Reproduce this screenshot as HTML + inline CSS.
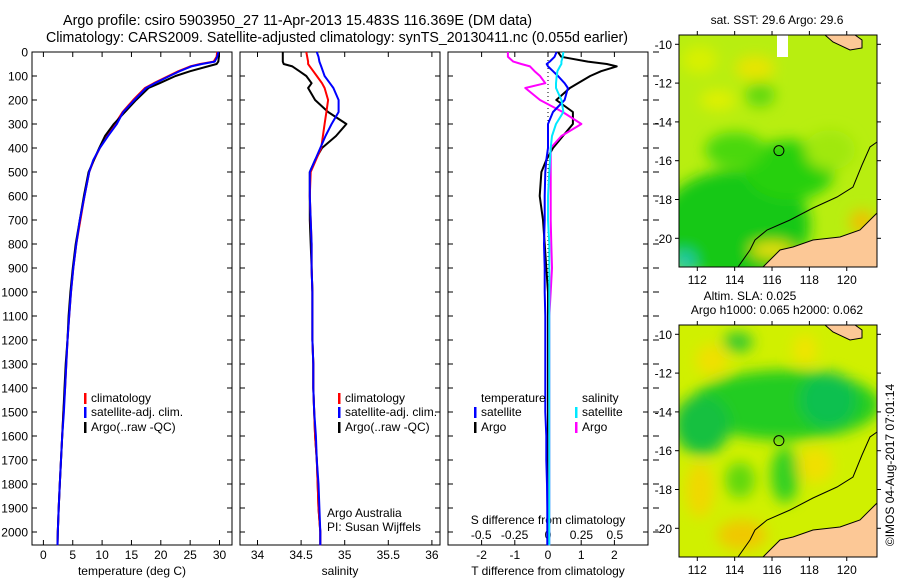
<!DOCTYPE html>
<html><head><meta charset="utf-8"><style>
html,body{margin:0;padding:0;background:#fff;}
svg{display:block;font-family:"Liberation Sans",sans-serif;}
</style></head><body>
<svg id="fig" width="900" height="580" viewBox="0 0 900 580" xmlns="http://www.w3.org/2000/svg">
<defs>
<filter id="blur" x="-20%" y="-20%" width="140%" height="140%"><feGaussianBlur stdDeviation="7"/></filter>
<clipPath id="clip1"><rect x="679" y="35" width="198" height="232"/></clipPath>
<clipPath id="clip2"><rect x="679" y="325" width="198" height="232"/></clipPath>
</defs>
<text x="63" y="25" font-size="14.3" textLength="469" lengthAdjust="spacingAndGlyphs">Argo profile: csiro 5903950_27 11-Apr-2013 15.483S 116.369E (DM data)</text>
<text x="46" y="42" font-size="14.3" textLength="582" lengthAdjust="spacingAndGlyphs">Climatology: CARS2009. Satellite-adjusted climatology: synTS_20130411.nc (0.055d earlier)</text>
<g id="g"></g>
</svg>
<script>
// ---- data ----
var depthLevels=[0,20,40,50,60,80,100,130,150,200,250,300,350,400,450,500,600,700,800,900,1000,1100,1200,1300,1400,1500,1600,1700,1800,1900,2000,2055];
var tempClim=[29.6,29.5,29.0,26.7,25.0,23.0,21.3,18.8,17.3,15.3,13.5,12.2,10.8,9.6,8.6,7.8,7.0,6.3,5.6,5.1,4.7,4.4,4.1,3.9,3.7,3.4,3.2,3.0,2.8,2.6,2.45,2.4];
var tempSat=[29.8,29.6,29.2,27.0,25.2,23.2,21.5,19.0,17.5,15.5,13.6,12.5,11.0,9.6,8.5,7.8,7.0,6.2,5.6,5.1,4.7,4.4,4.1,3.9,3.7,3.5,3.2,3.0,2.8,2.6,2.45,2.4];
var tempArgo=[29.9,29.9,29.8,29.5,28.0,25.0,22.5,19.8,17.9,15.8,13.9,12.0,10.5,9.5,8.6,7.7,6.9,6.2,5.5,5.0,4.6,4.3,4.1,3.8,3.6,3.4,3.2,3.0,2.8,2.6,2.45,2.4];
var salClim=[34.56,34.57,34.58,34.58,34.60,34.64,34.68,34.74,34.77,34.81,34.79,34.77,34.75,34.73,34.67,34.61,34.60,34.61,34.62,34.62,34.63,34.63,34.63,34.64,34.64,34.65,34.66,34.68,34.69,34.70,34.72,34.72];
var salSat=[34.68,34.70,34.71,34.72,34.73,34.75,34.77,34.83,34.87,34.93,34.93,34.85,34.78,34.72,34.66,34.60,34.60,34.61,34.62,34.62,34.63,34.63,34.63,34.64,34.64,34.65,34.67,34.68,34.70,34.71,34.72,34.72];
var salArgo=[34.29,34.29,34.29,34.30,34.40,34.48,34.56,34.62,34.58,34.66,34.81,35.02,34.90,34.74,34.66,34.60,34.60,34.60,34.61,34.62,34.63,34.63,34.63,34.64,34.64,34.65,34.66,34.68,34.69,34.70,34.72,34.72];
var dTsat=[0.26,0.2,0.05,-0.04,0.0,0.15,0.3,0.5,0.6,0.5,0.15,0.0,0.0,0.0,-0.05,-0.08,-0.1,-0.1,-0.12,-0.1,-0.1,-0.08,-0.08,-0.08,-0.08,-0.08,-0.05,-0.05,-0.03,-0.02,-0.02,-0.02];
var dTargo=[0.3,0.4,1.2,1.77,2.07,1.6,1.27,0.9,0.66,0.25,0.75,0.75,0.45,0.15,-0.05,-0.2,-0.25,-0.15,-0.1,-0.05,0.0,0.0,0.0,0.0,0.0,0.0,0.0,0.0,0.0,0.0,0.0,0.0];
var dSsat=[0.115,0.11,0.1,0.1,0.09,0.07,0.065,0.06,0.06,0.1,0.115,0.06,0.03,0.02,0.015,0.01,0.0,0.0,0.01,0.01,0.01,0.01,0.01,0.01,0.01,0.01,0.01,0.01,0.01,0.01,0.01,0.01];
var dSargo=[-0.3,-0.3,-0.26,-0.2,-0.135,-0.1,-0.06,-0.02,-0.17,-0.06,0.11,0.25,0.1,0.02,0.02,0.02,0.02,0.02,0.025,0.03,0.02,0.01,0.01,0.01,0.01,0.01,0.01,0.01,0.01,0.01,0.01,0.01];
var depthTicks=[0,100,200,300,400,500,600,700,800,900,1000,1100,1200,1300,1400,1500,1600,1700,1800,1900,2000];
var tempTicks=[0,5,10,15,20,25,30];
var salTicks=[34,34.5,35,35.5,36];
var dTTicks=[-2,-1,0,1,2];
var dSTicks=[-0.5,-0.25,0,0.25,0.5];
var lonTicks=[112,114,116,118,120];
var latTicks=[-10,-12,-14,-16,-18,-20];
var floatLon=116.369, floatLat=-15.483;

// ---- scales ----
function yD(d){return 52+d*0.24;}
function xT(t){return 43.4+5.87*t;}
function xS(s){return 257.5+87.2*(s-34);}
function xdT(v){return 548+33.2*v;}
function xdS(v){return 548+133.6*v;}
function xLon(l){return 697.3+(l-112)*18.68;}
function yLat(l,off){return off+44.3+(-10-l)*19.4;}

var NS="http://www.w3.org/2000/svg", G=document.getElementById('g');
function el(tag,attrs,parent){var e=document.createElementNS(NS,tag);for(var k in attrs)e.setAttribute(k,attrs[k]);(parent||G).appendChild(e);return e;}
function txt(x,y,s,size,anchor,name){var t=el('text',{x:x,y:y,'font-size':size,'text-anchor':anchor||'start'});t.textContent=s;


return t;}
function line(vals,fx,color,name,w){var pts=depthLevels.map(function(d,i){return fx(vals[i]).toFixed(1)+','+yD(d).toFixed(1);}).join(' ');
var p=el('polyline',{points:pts,fill:'none',stroke:color,'stroke-width':w||2,'stroke-linejoin':'round'});

}

var panels=[{x0:32,x1:232,name:'temperature-panel'},{x0:240,x1:440,name:'salinity-panel'},{x0:448,x1:648,name:'difference-panel'}];
panels.forEach(function(p){
  var r=el('rect',{x:p.x0,y:52,width:p.x1-p.x0,height:493,fill:'none',stroke:'#000','stroke-width':1});
  
  
  depthTicks.forEach(function(d){
    el('line',{x1:p.x0,x2:p.x0+5,y1:yD(d),y2:yD(d),stroke:'#000'});
    el('line',{x1:p.x1,x2:p.x1-5,y1:yD(d),y2:yD(d),stroke:'#000'});
  });
});
depthTicks.forEach(function(d){txt(28,yD(d)+4.5,String(d),12,'end','depth-tick-label');});
tempTicks.forEach(function(t){el('line',{x1:xT(t),x2:xT(t),y1:545,y2:540,stroke:'#000'});el('line',{x1:xT(t),x2:xT(t),y1:52,y2:57,stroke:'#000'});txt(xT(t),559,String(t),12,'middle','temperature-tick-label');});
salTicks.forEach(function(t){el('line',{x1:xS(t),x2:xS(t),y1:545,y2:540,stroke:'#000'});el('line',{x1:xS(t),x2:xS(t),y1:52,y2:57,stroke:'#000'});txt(xS(t),559,String(t),12,'middle','salinity-tick-label');});
dTTicks.forEach(function(t){el('line',{x1:xdT(t),x2:xdT(t),y1:545,y2:540,stroke:'#000'});el('line',{x1:xdT(t),x2:xdT(t),y1:52,y2:57,stroke:'#000'});txt(xdT(t),559,String(t),12,'middle','t-diff-tick-label');});
dSTicks.forEach(function(t){txt(xdS(t),539,String(t),12,'middle','s-diff-tick-label');});
txt(132,575,'temperature (deg C)',12,'middle','temperature-axis-title');
txt(340,575,'salinity',12,'middle','salinity-axis-title');
txt(548,575,'T difference from climatology',12,'middle','t-diff-axis-title');
txt(548,524,'S difference from climatology',12,'middle','s-diff-axis-title');
el('line',{x1:548,x2:548,y1:52,y2:545,stroke:'#000','stroke-dasharray':'1,3'});
line(tempClim,xT,'#ff0000','temperature-climatology-line');
line(tempArgo,xT,'#000000','temperature-argo-line');
line(tempSat,xT,'#0000ff','temperature-satellite-line');
line(salArgo,xS,'#000000','salinity-argo-line');
line(salClim,xS,'#ff0000','salinity-climatology-line');
line(salSat,xS,'#0000ff','salinity-satellite-line');
line(dTargo,xdT,'#000000','t-diff-argo-line');
line(dSargo,xdS,'#ff00ff','s-diff-argo-line');
line(dTsat,xdT,'#0000ff','t-diff-satellite-line');
line(dSsat,xdS,'#00e8ff','s-diff-satellite-line');
function leg(x,y,color,label,name){el('rect',{x:x,y:y-9,width:2.5,height:11,fill:color});txt(x+7,y,label,12,'start',name);}
leg(84,402,'#ff0000','climatology','legend-climatology');
leg(84,416,'#0000ff','satellite-adj. clim.','legend-satellite');
leg(84,431,'#000000','Argo(..raw -QC)','legend-argo');
leg(338,402,'#ff0000','climatology','legend2-climatology');
leg(338,416,'#0000ff','satellite-adj. clim.','legend2-satellite');
leg(338,431,'#000000','Argo(..raw -QC)','legend2-argo');
txt(481,402,'temperature',12,'start','legend-temperature-header');
txt(582,402,'salinity',12,'start','legend-salinity-header');
leg(474,416,'#0000ff','satellite','legend-t-satellite');
leg(474,431,'#000000','Argo','legend-t-argo');
leg(575,416,'#00e8ff','satellite','legend-s-satellite');
leg(575,431,'#ff00ff','Argo','legend-s-argo');
txt(327,517,'Argo Australia',12,'start','credit-argo-australia');
txt(327,531,'PI: Susan Wijffels',12,'start','credit-pi');
depthTicks.forEach(function(d){el('line',{x1:653,x2:659,y1:yD(d),y2:yD(d),stroke:'#000'});});

// ---- maps ----
function map(off,clip,base,blobs,title1,title2,name){
  var g=el('g',{'clip-path':'url(#'+clip+')'});
  
  
  el('rect',{x:679,y:off+35,width:198,height:232,fill:base},g);
  var bg=el('g',{filter:'url(#blur)'},g);
  blobs.forEach(function(b){el('ellipse',{cx:b[0],cy:b[1]+off,rx:b[2],ry:b[3],fill:b[4]},bg);});
  if(off===0){el('rect',{x:777,y:35,width:11,height:22,fill:'#fff'},g);}
  el('path',{d:'M877,'+(off+213)+' L860,'+(off+230)+' L840,'+(off+237)+' L813,'+(off+240)+' L793,'+(off+247)+' L780,'+(off+250)+' L763,'+(off+267)+' L877,'+(off+267)+' Z',fill:'#fcc896',stroke:'#000','stroke-width':1},g);
  el('path',{d:'M825,'+(off+35)+' L833,'+(off+42)+' L850,'+(off+50)+' L862,'+(off+48)+' L862,'+(off+40)+' L855,'+(off+35)+' Z',fill:'#fcc896',stroke:'#000','stroke-width':1},g);
  el('path',{d:'M877,'+(off+142)+' L870,'+(off+147)+' L862,'+(off+165)+' L853,'+(off+187)+' L837,'+(off+197)+' L813,'+(off+208)+' L790,'+(off+220)+' L767,'+(off+230)+' L755,'+(off+240)+' L750,'+(off+250)+' L738,'+(off+267),fill:'none',stroke:'#000','stroke-width':1},g);
  el('circle',{cx:xLon(floatLon),cy:yLat(floatLat,off),r:5,fill:'none',stroke:'#000','stroke-width':1},g);
  var fr=el('rect',{x:679,y:off+35,width:198,height:232,fill:'none',stroke:'#000'});
  
  
  lonTicks.forEach(function(l){el('line',{x1:xLon(l),x2:xLon(l),y1:off+35,y2:off+31,stroke:'#000'});el('line',{x1:xLon(l),x2:xLon(l),y1:off+267,y2:off+271,stroke:'#000'});txt(xLon(l),off+284,String(l),12,'middle','map-lon-label');});
  latTicks.forEach(function(l){el('line',{x1:679,x2:675,y1:yLat(l,off),y2:yLat(l,off),stroke:'#000'});el('line',{x1:877,x2:881,y1:yLat(l,off),y2:yLat(l,off),stroke:'#000'});txt(672,yLat(l,off)+4.5,String(l),12,'end','map-lat-label');});
  if(title2){txt(750,off+10,title1,12,'middle','map-title');txt(777,off+24,title2,12,'middle','map-subtitle');}
  else txt(777,off+24,title1,12,'middle','map-title');
}
map(0,'clip1','#b8ee10',[[735,225,75,55,'#18c818'],[790,170,45,30,'#28d010'],[735,150,30,18,'#48d810'],[700,60,18,14,'#d8f000'],[755,68,20,12,'#e8e400'],[718,100,18,10,'#e0f000'],[684,262,12,12,'#20c8a8'],[772,250,22,8,'#ece000'],[862,222,12,12,'#f0c000'],[760,95,15,12,'#60d810'],[830,150,25,20,'#a0e810']],'sat. SST: 29.6  Argo: 29.6',null,'sst-map');
map(290,'clip2','#d0f000',[[785,115,95,35,'#20cc20'],[702,135,28,30,'#18c040'],[828,110,28,28,'#10c050'],[785,185,14,28,'#30d020'],[738,52,15,10,'#30c830'],[712,70,16,16,'#f0e000'],[700,200,14,28,'#f0d800'],[815,175,18,18,'#f0e000'],[742,245,25,15,'#f0c800'],[805,60,12,16,'#f0e400'],[740,190,15,18,'#60d810']],'Altim. SLA: 0.025','Argo h1000: 0.065 h2000: 0.062','sla-map');
var c=txt(0,0,'\u00a9IMOS 04-Aug-2017 07:01:14',12,'middle','timestamp');
c.setAttribute('transform','translate(894,465) rotate(-90)');
</script>
</body></html>
